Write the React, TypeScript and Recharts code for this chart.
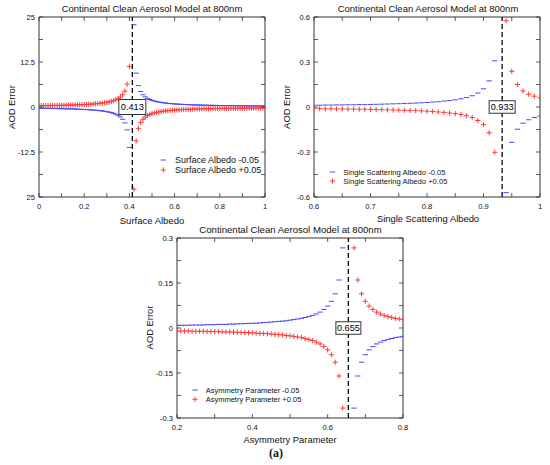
import React from 'react';
import { ScatterChart, Scatter, XAxis, YAxis, ReferenceLine, ReferenceDot } from 'recharts';

const FONT = '"Liberation Sans", Arial, Helvetica, sans-serif';
const AXIS = '#333';
const BLUE = '#4646ff';
const RED = '#ff3a3a';

// ---------- Panel 1: Surface Albedo ----------
const albedoX = [0,0.01,0.02,0.03,0.04,0.05,0.06,0.07,0.08,0.09,0.1,0.11,0.12,0.13,0.14,0.15,0.16,0.17,0.18,0.19,0.2,0.21,0.22,0.23,0.24,0.25,0.26,0.27,0.28,0.29,0.3,0.31,0.32,0.33,0.34,0.35,0.36,0.37,0.38,0.39,0.4,0.42,0.43,0.44,0.45,0.46,0.47,0.48,0.49,0.5,0.51,0.52,0.53,0.54,0.55,0.56,0.57,0.58,0.59,0.6,0.61,0.62,0.63,0.64,0.65,0.66,0.67,0.68,0.69,0.7,0.71,0.72,0.73,0.74,0.75,0.76,0.77,0.78,0.79,0.8,0.81,0.82,0.83,0.84,0.85,0.86,0.87,0.88,0.89,0.9,0.91,0.92,0.93,0.94,0.95,0.96,0.97,0.98,0.99,1];
const albedoMinus = [-0.35,-0.36,-0.37,-0.38,-0.39,-0.4,-0.41,-0.43,-0.44,-0.45,-0.47,-0.48,-0.5,-0.52,-0.53,-0.55,-0.58,-0.6,-0.63,-0.65,-0.69,-0.72,-0.76,-0.8,-0.84,-0.9,-0.95,-1.02,-1.1,-1.19,-1.29,-1.42,-1.57,-1.76,-2,-2.32,-2.75,-3.4,-4.42,-6.35,-11.23,22.86,9.41,5.93,4.32,3.4,2.81,2.39,2.08,1.84,1.65,1.5,1.37,1.26,1.17,1.09,1.02,0.96,0.9,0.86,0.81,0.77,0.74,0.71,0.68,0.65,0.62,0.6,0.58,0.56,0.54,0.52,0.51,0.49,0.48,0.46,0.45,0.44,0.42,0.41,0.4,0.39,0.38,0.38,0.37,0.36,0.35,0.34,0.34,0.33,0.32,0.32,0.31,0.3,0.3,0.29,0.29,0.28,0.28,0.27];
const albedoPlus = [0.35,0.36,0.37,0.38,0.39,0.4,0.41,0.43,0.44,0.45,0.47,0.48,0.5,0.52,0.53,0.55,0.58,0.6,0.63,0.65,0.69,0.72,0.76,0.8,0.84,0.9,0.95,1.02,1.1,1.19,1.29,1.42,1.57,1.76,2,2.32,2.75,3.4,4.42,6.35,11.23,-22.86,-9.41,-5.93,-4.32,-3.4,-2.81,-2.39,-2.08,-1.84,-1.65,-1.5,-1.37,-1.26,-1.17,-1.09,-1.02,-0.96,-0.9,-0.86,-0.81,-0.77,-0.74,-0.71,-0.68,-0.65,-0.62,-0.6,-0.58,-0.56,-0.54,-0.52,-0.51,-0.49,-0.48,-0.46,-0.45,-0.44,-0.42,-0.41,-0.4,-0.39,-0.38,-0.38,-0.37,-0.36,-0.35,-0.34,-0.34,-0.33,-0.32,-0.32,-0.31,-0.3,-0.3,-0.29,-0.29,-0.28,-0.28,-0.27];
const albedoXTicks = [0,0.1,0.2,0.3,0.4,0.5,0.6,0.7,0.8,0.9,1];
const albedoXTickLabels = ['0','','0.2','','0.4','','0.6','','0.8','','1'];
const albedoYTicks = [-25,-18.75,-12.5,-6.25,0,6.25,12.5,18.75,25];
const albedoYTickLabels = ['25','','-12.5','','0','','12.5','','25'];

// ---------- Panel 2: Single Scattering Albedo ----------
const ssaX = [0.6,0.61,0.62,0.63,0.64,0.65,0.66,0.67,0.68,0.69,0.7,0.71,0.72,0.73,0.74,0.75,0.76,0.77,0.78,0.79,0.8,0.81,0.82,0.83,0.84,0.85,0.86,0.87,0.88,0.89,0.9,0.91,0.92,0.94,0.95,0.96,0.97,0.98,0.99,1];
const ssaMinus = [0.012,0.012,0.013,0.013,0.014,0.014,0.015,0.015,0.016,0.016,0.017,0.018,0.019,0.02,0.021,0.022,0.023,0.025,0.026,0.028,0.03,0.033,0.035,0.039,0.043,0.048,0.055,0.063,0.075,0.093,0.121,0.174,0.308,-0.571,-0.235,-0.148,-0.108,-0.085,-0.07,-0.06];
const ssaPlus = [-0.011,-0.011,-0.012,-0.012,-0.013,-0.013,-0.014,-0.014,-0.015,-0.015,-0.016,-0.017,-0.018,-0.019,-0.02,-0.021,-0.022,-0.023,-0.024,-0.026,-0.028,-0.03,-0.033,-0.036,-0.04,-0.044,-0.05,-0.058,-0.07,-0.09,-0.117,-0.172,-0.302,0.575,0.238,0.15,0.107,0.085,0.072,0.062];
const ssaXTicks = [0.6,0.65,0.7,0.75,0.8,0.85,0.9,0.95,1];
const ssaXTickLabels = ['0.6','','0.7','','0.8','','0.9','','1'];
const ssaYTicks = [-0.6,-0.45,-0.3,-0.15,0,0.15,0.3,0.45,0.6];
const ssaYTickLabels = ['-0.6','','-0.3','','0','','0.3','','0.6'];

// ---------- Panel 3: Asymmetry Parameter ----------
const asyX = [0.2,0.21,0.22,0.23,0.24,0.25,0.26,0.27,0.28,0.29,0.3,0.31,0.32,0.33,0.34,0.35,0.36,0.37,0.38,0.39,0.4,0.41,0.42,0.43,0.44,0.45,0.46,0.47,0.48,0.49,0.5,0.51,0.52,0.53,0.54,0.55,0.56,0.57,0.58,0.59,0.6,0.61,0.62,0.63,0.64,0.67,0.68,0.69,0.7,0.71,0.72,0.73,0.74,0.75,0.76,0.77,0.78,0.79,0.8];
const asyMinus = [0.009,0.009,0.009,0.009,0.01,0.01,0.01,0.01,0.011,0.011,0.011,0.012,0.012,0.012,0.013,0.013,0.014,0.014,0.015,0.015,0.016,0.016,0.017,0.018,0.019,0.02,0.021,0.022,0.023,0.024,0.026,0.028,0.03,0.032,0.035,0.038,0.042,0.047,0.053,0.062,0.073,0.089,0.114,0.16,0.267,-0.267,-0.16,-0.114,-0.089,-0.073,-0.062,-0.053,-0.047,-0.042,-0.038,-0.035,-0.032,-0.03,-0.028];
const asyPlus = [-0.01,-0.01,-0.01,-0.01,-0.011,-0.011,-0.011,-0.011,-0.012,-0.012,-0.012,-0.012,-0.013,-0.013,-0.013,-0.014,-0.014,-0.015,-0.015,-0.016,-0.016,-0.017,-0.018,-0.018,-0.019,-0.02,-0.021,-0.022,-0.023,-0.025,-0.026,-0.028,-0.03,-0.032,-0.035,-0.038,-0.042,-0.047,-0.053,-0.062,-0.073,-0.089,-0.114,-0.16,-0.267,0.267,0.16,0.114,0.089,0.073,0.062,0.053,0.047,0.042,0.038,0.035,0.032,0.03,0.028];
const asyXTicks = [0.2,0.3,0.4,0.5,0.6,0.7,0.8];
const asyXTickLabels = ['0.2','','0.4','','0.6','','0.8'];
const asyYTicks = [-0.3,-0.225,-0.15,-0.075,0,0.075,0.15,0.225,0.3];
const asyYTickLabels = ['-0.3','','-0.15','','0','','0.15','','0.3'];

const TITLE = 'Continental Clean Aerosol Model at 800nm';

const W = 275;
const H = 230;
// axes take 1px each, so plot area = x 39..265, y 17..197
const MARGIN = { top: 16, right: 9, bottom: 32, left: 38 };
const TICK_LEN = 4;
const TICK_FONT = 7.6;

function findLabel(ticks: number[], labels: string[], v: number) {
  const i = ticks.findIndex((t) => Math.abs(t - v) < 1e-7);
  return i >= 0 ? labels[i] : '';
}

function makeTick(side: string, ticks: number[], labels: string[]) {
  return (props: any) => {
    const { x, y, payload } = props;
    const lab = findLabel(ticks, labels, payload.value);
    if (side === 'bottom') {
      return (
        <g>
          <line x1={x} y1={y} x2={x} y2={y - TICK_LEN} stroke={AXIS} strokeWidth={0.8} />
          {lab ? (
            <text x={x} y={y + 11.5} textAnchor="middle" fontSize={TICK_FONT} fontFamily={FONT} fill="#111">
              {lab}
            </text>
          ) : null}
        </g>
      );
    }
    if (side === 'top') {
      return <line x1={x} y1={y} x2={x} y2={y + TICK_LEN} stroke={AXIS} strokeWidth={0.8} />;
    }
    if (side === 'left') {
      return (
        <g>
          <line x1={x} y1={y} x2={x + TICK_LEN} y2={y} stroke={AXIS} strokeWidth={0.8} />
          {lab ? (
            <text x={x - 4} y={y + 2.7} textAnchor="end" fontSize={TICK_FONT} fontFamily={FONT} fill="#111">
              {lab}
            </text>
          ) : null}
        </g>
      );
    }
    return <line x1={x} y1={y} x2={x - TICK_LEN} y2={y} stroke={AXIS} strokeWidth={0.8} />;
  };
}

function MinusMark(props: any) {
  const { cx, cy } = props;
  if (cx == null || cy == null) return null;
  return <line x1={cx - 2.6} y1={cy} x2={cx + 2.6} y2={cy} stroke={BLUE} strokeWidth={1} />;
}

function PlusMark(props: any) {
  const { cx, cy } = props;
  if (cx == null || cy == null) return null;
  return (
    <path
      d={`M${cx - 2.6},${cy}H${cx + 2.6}M${cx},${cy - 2.6}V${cy + 2.6}`}
      stroke={RED}
      strokeWidth={1}
      fill="none"
    />
  );
}

type PanelProps = {
  left: number;
  top: number;
  xs: number[];
  minus: number[];
  plus: number[];
  xDomain: number[];
  xTicks: number[];
  xTickLabels: string[];
  yDomain: number[];
  yTicks: number[];
  yTickLabels: string[];
  vline: number;
  boxText: string;
  boxW: number;
  boxH: number;
};

function Panel(p: PanelProps) {
  const minusData = p.xs.map((x, i) => ({ x, y: p.minus[i] }));
  const plusData = p.xs.map((x, i) => ({ x, y: p.plus[i] }));
  const boxShape = (props: any) => {
    const { cx, cy } = props;
    if (cx == null || cy == null) return null;
    return (
      <g>
        <rect x={cx - p.boxW / 2} y={cy - p.boxH / 2} width={p.boxW} height={p.boxH} fill="#fff" stroke="#333" strokeWidth={1} />
        <text x={cx} y={cy + 3.3} textAnchor="middle" fontSize={9.2} fontFamily={FONT} fill="#000">
          {p.boxText}
        </text>
      </g>
    );
  };
  const common = {
    type: 'number' as const,
    allowDataOverflow: true,
    tickSize: 0,
    tickMargin: 0,
    tickLine: false,
    interval: 0 as const,
    axisLine: { stroke: AXIS, strokeWidth: 1 },
  };
  return (
    <div style={{ position: 'absolute', left: p.left, top: p.top, width: W, height: H }}>
      <ScatterChart width={W} height={H} margin={MARGIN}>
        <XAxis
          {...common}
          xAxisId="b"
          dataKey="x"
          orientation="bottom"
          domain={p.xDomain}
          ticks={p.xTicks}
          height={1}
          tick={makeTick('bottom', p.xTicks, p.xTickLabels)}
        />
        <XAxis
          {...common}
          xAxisId="t"
          dataKey="x"
          orientation="top"
          domain={p.xDomain}
          ticks={p.xTicks}
          height={1}
          tick={makeTick('top', p.xTicks, p.xTickLabels)}
        />
        <YAxis
          {...common}
          yAxisId="l"
          dataKey="y"
          orientation="left"
          domain={p.yDomain}
          ticks={p.yTicks}
          width={1}
          tick={makeTick('left', p.yTicks, p.yTickLabels)}
        />
        <YAxis
          {...common}
          yAxisId="r"
          dataKey="y"
          orientation="right"
          domain={p.yDomain}
          ticks={p.yTicks}
          width={1}
          tick={makeTick('right', p.yTicks, p.yTickLabels)}
        />
        <Scatter xAxisId="b" yAxisId="l" data={minusData} shape={MinusMark} isAnimationActive={false} />
        <Scatter xAxisId="b" yAxisId="l" data={plusData} shape={PlusMark} isAnimationActive={false} />
        <ReferenceLine xAxisId="b" yAxisId="l" x={p.vline} stroke="#000" strokeWidth={1.3} strokeDasharray="5 3" />
        <ReferenceDot xAxisId="b" yAxisId="l" x={p.vline} y={0} r={1} shape={boxShape} />
      </ScatterChart>
    </div>
  );
}

function Legend2(props: { mx: number; tx: number; y1: number; y2: number; fs: number; t1: string; t2: string }) {
  const { mx, tx, y1, y2, fs, t1, t2 } = props;
  return (
    <g>
      <line x1={mx - 2.6} y1={y1} x2={mx + 2.6} y2={y1} stroke={BLUE} strokeWidth={1} />
      <text x={tx} y={y1 + fs * 0.36} fontSize={fs} fontFamily={FONT} fill="#111">{t1}</text>
      <path d={`M${mx - 2.6},${y2}H${mx + 2.6}M${mx},${y2 - 2.6}V${y2 + 2.6}`} stroke={RED} strokeWidth={1} fill="none" />
      <text x={tx} y={y2 + fs * 0.36} fontSize={fs} fontFamily={FONT} fill="#111">{t2}</text>
    </g>
  );
}

export default function App() {
  return (
    <div style={{ position: 'absolute', left: 0, top: 0, width: 550, height: 465, background: '#fff', overflow: 'hidden' }}>
      <Panel
        left={0}
        top={0}
        xs={albedoX}
        minus={albedoMinus}
        plus={albedoPlus}
        xDomain={[0, 1]}
        xTicks={albedoXTicks}
        xTickLabels={albedoXTickLabels}
        yDomain={[-25, 25]}
        yTicks={albedoYTicks}
        yTickLabels={albedoYTickLabels}
        vline={0.413}
        boxText="0.413"
        boxW={27}
        boxH={15}
      />
      <Panel
        left={275}
        top={0}
        xs={ssaX}
        minus={ssaMinus}
        plus={ssaPlus}
        xDomain={[0.6, 1]}
        xTicks={ssaXTicks}
        xTickLabels={ssaXTickLabels}
        yDomain={[-0.6, 0.6]}
        yTicks={ssaYTicks}
        yTickLabels={ssaYTickLabels}
        vline={0.933}
        boxText="0.933"
        boxW={26}
        boxH={12.5}
      />
      <Panel
        left={138}
        top={221}
        xs={asyX}
        minus={asyMinus}
        plus={asyPlus}
        xDomain={[0.2, 0.8]}
        xTicks={asyXTicks}
        xTickLabels={asyXTickLabels}
        yDomain={[-0.3, 0.3]}
        yTicks={asyYTicks}
        yTickLabels={asyYTickLabels}
        vline={0.655}
        boxText="0.655"
        boxW={25}
        boxH={12.5}
      />
      <svg width={550} height={465} style={{ position: 'absolute', left: 0, top: 0, pointerEvents: 'none' }}>
        <g fontFamily={FONT} fill="#111">
          <text x={152} y={11.7} textAnchor="middle" fontSize={9.5}>{TITLE}</text>
          <text x={428} y={12} textAnchor="middle" fontSize={9.5}>{TITLE}</text>
          <text x={290.5} y={232.5} textAnchor="middle" fontSize={9.6}>{TITLE}</text>

          <text x={152} y={223.5} textAnchor="middle" fontSize={9.5}>Surface Albedo</text>
          <text x={428} y={222} textAnchor="middle" fontSize={9.4}>Single Scattering Albedo</text>
          <text x={290} y={443} textAnchor="middle" fontSize={9.4}>Asymmetry Parameter</text>

          <text transform="translate(15,107) rotate(-90)" textAnchor="middle" fontSize={9.4}>AOD Error</text>
          <text transform="translate(290,107) rotate(-90)" textAnchor="middle" fontSize={9.4}>AOD Error</text>
          <text transform="translate(153.3,327.5) rotate(-90)" textAnchor="middle" fontSize={9.4}>AOD Error</text>
        </g>
        <Legend2 mx={163.3} tx={175} y1={160} y2={170} fs={9} t1="Surface Albedo -0.05" t2="Surface Albedo +0.05" />
        <Legend2 mx={332.5} tx={343.3} y1={172} y2={181} fs={7.6} t1="Single Scattering Albedo -0.05" t2="Single Scattering Albedo +0.05" />
        <Legend2 mx={195} tx={205.7} y1={390} y2={399.3} fs={7.5} t1="Asymmetry Parameter -0.05" t2="Asymmetry Parameter +0.05" />
        <text x={276} y={456.5} textAnchor="middle" fontSize={12} fontWeight="bold" fontFamily='"Liberation Serif", "Times New Roman", serif' fill="#111">(a)</text>
      </svg>
    </div>
  );
}
